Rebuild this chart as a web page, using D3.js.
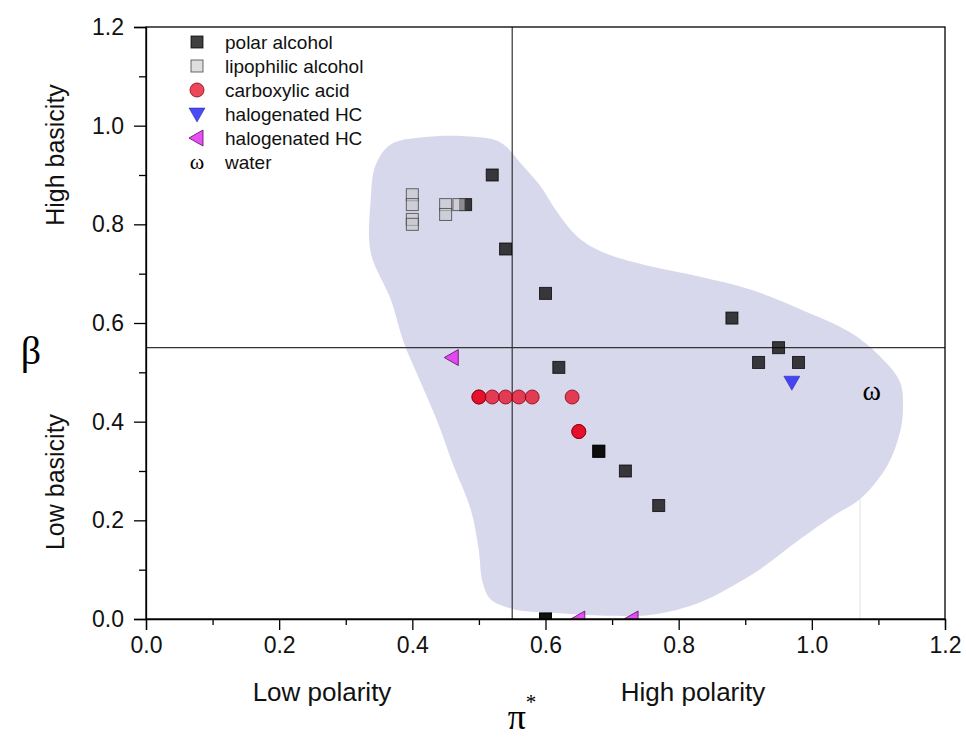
<!DOCTYPE html>
<html><head><meta charset="utf-8">
<script src="https://cdn.jsdelivr.net/npm/d3@7"></script>
<style>body{margin:0;background:#fff}svg{display:block}</style>
</head><body><svg id="c" width="966" height="740"></svg>
<script>
// ---- data ----
const xTickValues = [0, 0.2, 0.4, 0.6, 0.8, 1.0, 1.2];
const yTickValues = [0, 0.2, 0.4, 0.6, 0.8, 1.0, 1.2];
const minorTickValues = [0.1, 0.3, 0.5, 0.7, 0.9, 1.1];
const polarAlcohol = [[0.48,0.84],[0.52,0.90],[0.54,0.75],[0.60,0.66],[0.88,0.61],[0.95,0.55],[0.92,0.52],[0.98,0.52],[0.62,0.51],[0.68,0.34],[0.68,0.34],[0.72,0.30],[0.77,0.23],[0.60,0.00],[0.60,0.00]];
const lipophilicAlcohol = [[0.40,0.86],[0.40,0.84],[0.40,0.81],[0.40,0.80],[0.45,0.84],[0.45,0.82],[0.47,0.84]];
const carboxylicAcid = [[0.50,0.45],[0.50,0.45],[0.52,0.45],[0.54,0.45],[0.56,0.45],[0.58,0.45],[0.64,0.45],[0.65,0.38],[0.65,0.38]];
const halogenatedDown = [[0.97,0.48]];
const halogenatedLeft = [[0.46,0.53],[0.65,0.00],[0.73,0.00]];
const water = [[1.09,0.46]];
const thresholdPi = 0.55, thresholdBeta = 0.55;
const regionOutline = [[0.3375,0.743],[0.3375,0.850],[0.345,0.921],[0.3675,0.962],[0.4125,0.976],[0.4875,0.978],[0.5325,0.966],[0.567,0.917],[0.5925,0.877],[0.618,0.824],[0.648,0.775],[0.687,0.743],[0.7575,0.715],[0.8325,0.694],[0.9075,0.668],[0.9825,0.628],[1.0575,0.581],[1.107,0.526],[1.1325,0.480],[1.137,0.431],[1.1325,0.379],[1.113,0.310],[1.0725,0.243],[1.032,0.209],[0.9825,0.162],[0.9225,0.101],[0.873,0.061],[0.8325,0.034],[0.783,0.014],[0.738,0.006],[0.5925,0.014],[0.552,0.020],[0.5175,0.040],[0.5055,0.075],[0.4995,0.142],[0.4875,0.223],[0.462,0.310],[0.438,0.399],[0.4125,0.480],[0.387,0.561],[0.3675,0.648]];
const artifactLine = [[1.0725,0.0],[1.0725,0.243]];
const legendLabels = ["polar alcohol","lipophilic alcohol","carboxylic acid","halogenated HC","halogenated HC","water"];

// ---- layout ----
const W = 966, H = 740;
const m = {left:146, top:27, right:21, bottom:121};
const pw = W - m.left - m.right, ph = H - m.top - m.bottom;
const svg = d3.select("#c");
const x = d3.scaleLinear().domain([0,1.2]).range([0,pw]);
const y = d3.scaleLinear().domain([0,1.2]).range([ph,0]);
const g = svg.append("g").attr("transform",`translate(${m.left},${m.top})`);
const sans = "'Liberation Sans', Arial, sans-serif";
const serif = "'Liberation Serif', 'DejaVu Serif', serif";

svg.append("defs").append("clipPath").attr("id","clip")
  .append("rect").attr("width",pw).attr("height",ph);

// region
g.append("path").datum(regionOutline)
  .attr("d", d3.line().x(d=>x(d[0])).y(d=>y(d[1])).curve(d3.curveCatmullRomClosed.alpha(0.5)))
  .attr("fill","#d8d8ec");
g.append("path").datum(artifactLine)
  .attr("d", d3.line().x(d=>x(d[0])).y(d=>y(d[1])))
  .attr("stroke","#e2e2e2").attr("stroke-width",1).attr("fill","none");

// threshold lines
g.append("line").attr("x1",x(thresholdPi)).attr("x2",x(thresholdPi)).attr("y1",y(0)).attr("y2",y(1.2))
  .attr("stroke","#333").attr("stroke-width",1.2);
g.append("line").attr("x1",x(0)).attr("x2",x(1.2)).attr("y1",y(thresholdBeta)).attr("y2",y(thresholdBeta))
  .attr("stroke","#333").attr("stroke-width",1.2);

// markers
const sq = 12;
const styles = {
  polar: {fill:"#000", op:0.75, stroke:"#000", sop:0.75},
  lipo: {fill:"#c8c8cc", op:0.6, stroke:"#444", sop:0.8},
  acid: {fill:"#e6001a", op:0.72, stroke:"#8a0010", sop:0.8},
  down: {fill:"#2a2af5", op:0.85, stroke:"#1a1a90", sop:0.6},
  left: {fill:"#e020f0", op:0.78, stroke:"#6a1870", sop:0.9}
};
function drawSquare(sel, s){
  sel.append("rect").attr("x",-sq/2).attr("y",-sq/2).attr("width",sq).attr("height",sq)
    .attr("fill",s.fill).attr("fill-opacity",s.op).attr("stroke",s.stroke).attr("stroke-opacity",s.sop).attr("stroke-width",1);
}
function drawCircle(sel, s){
  sel.append("circle").attr("r",7).attr("fill",s.fill).attr("fill-opacity",s.op)
    .attr("stroke",s.stroke).attr("stroke-opacity",s.sop).attr("stroke-width",1);
}
function drawDown(sel, s){
  sel.append("path").attr("d","M-8,-6L8,-6L0,8Z").attr("fill",s.fill).attr("fill-opacity",s.op)
    .attr("stroke",s.stroke).attr("stroke-opacity",s.sop).attr("stroke-width",0.8);
}
function drawLeft(sel, s){
  sel.append("path").attr("d","M-8,0L6,-8L6,8Z").attr("fill",s.fill).attr("fill-opacity",s.op)
    .attr("stroke",s.stroke).attr("stroke-opacity",s.sop).attr("stroke-width",1);
}
const mk = g.append("g").attr("clip-path","url(#clip)");
function series(data, fn, s){
  mk.append("g").selectAll("g").data(data).join("g")
    .attr("transform",d=>`translate(${x(d[0])},${y(d[1])})`)
    .each(function(){ fn(d3.select(this), s); });
}
series(polarAlcohol, drawSquare, styles.polar);
series(lipophilicAlcohol, drawSquare, styles.lipo);
series(carboxylicAcid, drawCircle, styles.acid);
series(halogenatedDown, drawDown, styles.down);
series(halogenatedLeft, drawLeft, styles.left);
mk.selectAll("text.w").data(water).join("text").attr("class","w")
  .attr("x",d=>x(d[0])).attr("y",d=>y(d[1])).attr("dy","0.3em")
  .attr("text-anchor","middle").attr("font-family",serif).attr("font-size",28).text("ω");

// frame
g.append("rect").attr("width",pw).attr("height",ph).attr("fill","none").attr("stroke","#000").attr("stroke-width",1.3);

// axes
const fmt = d3.format(".1f");
g.append("g").attr("transform",`translate(0,${ph})`)
  .call(d3.axisBottom(x).tickValues(xTickValues).tickFormat(fmt).tickSize(11).tickPadding(7));
g.append("g").attr("transform",`translate(0,${ph})`)
  .call(d3.axisBottom(x).tickValues(minorTickValues).tickFormat("").tickSize(6))
  .call(a=>a.select(".domain").remove());
g.append("g")
  .call(d3.axisLeft(y).tickValues(yTickValues).tickFormat(fmt).tickSize(12).tickPadding(10));
g.append("g")
  .call(d3.axisLeft(y).tickValues(minorTickValues).tickFormat("").tickSize(7))
  .call(a=>a.select(".domain").remove());
g.selectAll(".tick line").attr("stroke","#000").attr("stroke-width",1.3);
g.selectAll(".domain").attr("stroke","#000").attr("stroke-width",1.3);
g.selectAll(".tick text").attr("font-family",sans).attr("font-size",23).attr("fill","#111");

// axis labels
svg.append("text").attr("x",322).attr("y",701).attr("text-anchor","middle")
  .attr("font-family",sans).attr("font-size",26).attr("fill","#111").text("Low polarity");
svg.append("text").attr("x",693).attr("y",701).attr("text-anchor","middle")
  .attr("font-family",sans).attr("font-size",26).attr("fill","#111").text("High polarity");
const pi = svg.append("text").attr("x",522).attr("y",729).attr("text-anchor","middle")
  .attr("font-family",serif).attr("font-size",36);
pi.append("tspan").text("π");
pi.append("tspan").attr("font-size",21).attr("dy",-20).text("*");
svg.append("text").attr("transform","translate(64,155) rotate(-90)").attr("text-anchor","middle")
  .attr("font-family",sans).attr("font-size",25).attr("fill","#111").text("High basicity");
svg.append("text").attr("transform","translate(64,482) rotate(-90)").attr("text-anchor","middle")
  .attr("font-family",sans).attr("font-size",25).attr("fill","#111").text("Low basicity");
svg.append("text").attr("x",31).attr("y",364).attr("text-anchor","middle")
  .attr("font-family",serif).attr("font-size",40).text("β");

// legend
const lg = svg.append("g").attr("transform","translate(197,42)");
const legendDraw = [
  s=>drawSquare(s, styles.polar), s=>drawSquare(s, styles.lipo), s=>drawCircle(s, styles.acid),
  s=>drawDown(s, styles.down), s=>drawLeft(s, styles.left),
  s=>s.append("text").attr("text-anchor","middle").attr("dy","0.3em").attr("font-family",serif).attr("font-size",22).text("ω")
];
legendLabels.forEach((t,i)=>{
  const row = lg.append("g").attr("transform",`translate(0,${i*24})`);
  legendDraw[i](row.append("g"));
  row.append("text").attr("x",28).attr("dy","0.35em").attr("font-family",sans).attr("font-size",19).attr("fill","#111").text(t);
});
</script></body></html>
